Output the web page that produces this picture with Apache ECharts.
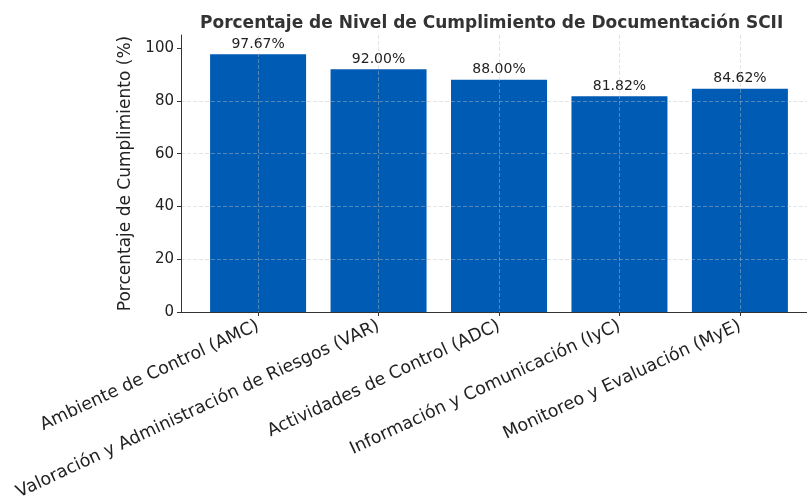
<!DOCTYPE html>
<html>
<head>
<meta charset="utf-8">
<script src="https://cdn.jsdelivr.net/npm/echarts@6/dist/echarts.min.js"></script>
<style>
  html, body { margin: 0; padding: 0; background: #fff; }
  #chart { width: 807px; height: 497px; }
</style>
</head>
<body>
<div id="chart"></div>
<script>
const categories = [
  "Ambiente de Control (AMC)",
  "Valoración y Administración de Riesgos (VAR)",
  "Actividades de Control (ADC)",
  "Información y Comunicación (IyC)",
  "Monitoreo y Evaluación (MyE)",
];
const cumplimiento = [97.67, 92.0, 88.0, 81.82, 84.62];
const yTicks = [0, 20, 40, 60, 80, 100];

const font = "DejaVu Sans";
const gridLine = {
  show: true,
  lineStyle: { type: [4, 2], color: "rgba(190,190,190,0.55)", width: 0.8 },
};

const chart = echarts.init(document.getElementById("chart"));
chart.setOption({
  animation: false,
  title: {
    text: "Porcentaje de Nivel de Cumplimiento de Documentación SCII",
    left: 195,
    top: 10,
    textStyle: { fontFamily: font, fontSize: 17, fontWeight: "bold", color: "#333" },
  },
  grid: { left: 181, top: 35, width: 636, bottom: 185, outerBoundsMode: "none", containLabel: false },
  xAxis: {
    type: "value",
    min: -0.64,
    max: 4.64,
    splitNumber: 5,
    z: 5,
    axisLine: { show: true, onZero: false, lineStyle: { color: "#333", width: 1 } },
    axisTick: { show: true, length: 4, lineStyle: { color: "#333" } },
    axisLabel: {
      rotate: 25,
      margin: 13,
      fontFamily: font,
      fontSize: 17.5,
      color: "#222",
      showMinLabel: false,
      showMaxLabel: false,
      formatter: (v) => (Number.isInteger(v) ? categories[v] : ""),
    },
    splitLine: Object.assign({ showMinLine: false, showMaxLine: false }, gridLine),
  },
  yAxis: {
    type: "value",
    min: 0,
    max: 105,
    interval: 20,
    z: 5,
    name: "Porcentaje de Cumplimiento (%)",
    nameLocation: "middle",
    nameGap: 45,
    nameTextStyle: { fontFamily: font, fontSize: 17, color: "#222" },
    axisLine: { show: true, onZero: false, lineStyle: { color: "#333", width: 1 } },
    axisTick: { show: true, length: 4, lineStyle: { color: "#333" }, customValues: yTicks },
    axisLabel: {
      fontFamily: font,
      fontSize: 15,
      color: "#222",
      margin: 7,
      customValues: yTicks,
    },
    splitLine: Object.assign({ showMaxLine: false }, gridLine),
  },
  series: [
    {
      type: "bar",
      barWidth: 96,
      data: categories.map((c, i) => [i, cumplimiento[i]]),
      itemStyle: { color: "#005bb5" },
      label: {
        show: true,
        position: "top",
        distance: 3,
        fontFamily: font,
        fontSize: 14,
        color: "#222",
        formatter: (p) => p.value[1].toFixed(2) + "%",
      },
    },
  ],
});
</script>
</body>
</html>
